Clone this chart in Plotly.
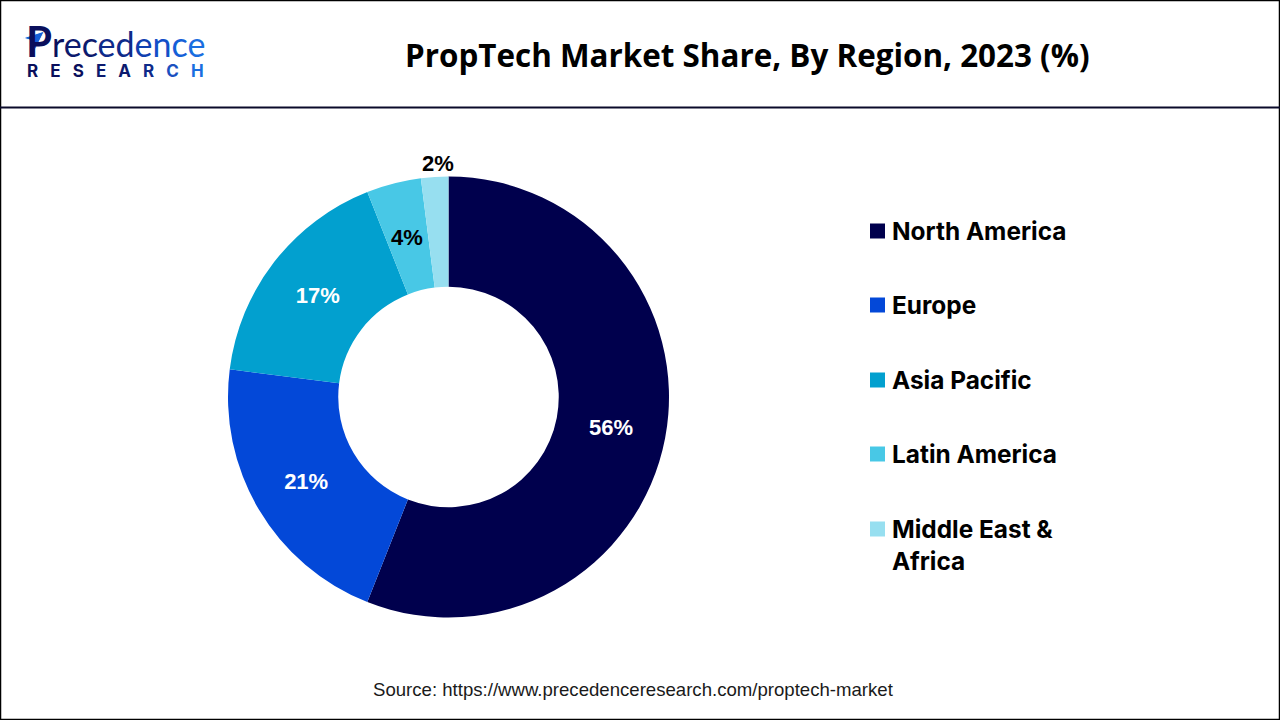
import math
import plotly.graph_objects as go

W, H = 1280, 720
regions = ["North America", "Europe", "Asia Pacific", "Latin America", "Middle East &<br>Africa"]
shares = [56, 21, 17, 4, 2]
share_labels = ["56%", "21%", "17%", "4%", "2%"]
colors = ["#00004d", "#0348d8", "#02a0cf", "#48c8e6", "#97dff0"]
label_colors = ["white", "white", "white", "black", "black"]
legend_y = [231, 305, 380, 454, 529]
logo_letters = list("recedence")
logo_colors = ["#0a0f5c", "#0c1a6e", "#0c1a6e", "#0e2a8a", "#0e2a8a", "#1040b0", "#1250c8", "#1560d8", "#1a6ee0"]
logo_sub = list("RESEARCH")
logo_sub_colors = ["#0a0f5c", "#0a0f5c", "#0a0f5c", "#0c1a6e", "#0c1a6e", "#0e2a8a", "#1a50c0", "#1a6ee0"]

CX, CY, R_OUT = 448.5, 397, 220.5
LABEL_SIZE = 22


def px(x):
    return x / W


def py(y):
    return 1 - y / H


# Small slices cannot hold a label through the trace's own placement, so those
# two are placed on their slice's mid-angle from the same share values.
native_text = [t if i < 3 else "" for i, t in enumerate(share_labels)]

fig = go.Figure(go.Pie(
    labels=[r.replace("<br>", " ") for r in regions],
    values=shares,
    text=native_text,
    textinfo="text",
    textposition="inside",
    insidetextorientation="horizontal",
    insidetextfont=dict(family="Liberation Sans", size=LABEL_SIZE, color=label_colors, weight="bold"),
    marker=dict(colors=colors, line=dict(width=0)),
    hole=0.5,
    sort=False,
    direction="clockwise",
    rotation=0,
    showlegend=False,
    domain=dict(x=[px(CX - R_OUT), px(CX + R_OUT)], y=[py(CY + R_OUT), py(CY - R_OUT)]),
    hoverinfo="label+percent",
))

shapes = [
    dict(type="rect", xref="paper", yref="paper", x0=px(0.5), x1=px(1279.5), y0=py(719.5), y1=py(0.5),
         line=dict(color="#000000", width=1.5), fillcolor="rgba(0,0,0,0)"),
    dict(type="line", xref="paper", yref="paper", x0=0, x1=1, y0=py(107.5), y1=py(107.5),
         line=dict(color="#0a0a2a", width=2)),
]
for y, c in zip(legend_y, colors):
    shapes.append(dict(type="rect", xref="paper", yref="paper", x0=px(870), x1=px(885),
                       y0=py(y + 7.5), y1=py(y - 7.5), fillcolor=c, line=dict(width=0)))

annotations = [
    dict(text="<b>PropTech Market Share, By Region, 2023 (%)</b>", x=px(747.5), y=py(55), xref="paper", yref="paper",
         showarrow=False, xanchor="center", yanchor="middle",
         font=dict(family="Open Sans", size=31.4, color="#000000")),
    dict(text="Source: https://www.precedenceresearch.com/proptech-market", x=px(633.5), y=py(689),
         xref="paper", yref="paper", showarrow=False, xanchor="center", yanchor="middle",
         font=dict(family="Liberation Sans", size=18.6, color="#1a1a1a")),
    dict(text='<b><span style="font-size:42px;color:#0a0f5c">P</span></b>'
              + "".join(f'<span style="color:{c}">{l}</span>' for l, c in zip(logo_letters, logo_colors)),
         x=px(24), y=py(41), xref="paper", yref="paper", showarrow=False, xanchor="left", yanchor="middle",
         font=dict(family="Lato", size=34, color="#0a0f5c")),
    dict(text="<b>" + "   ".join(f'<span style="color:{c}">{l}</span>' for l, c in zip(logo_sub, logo_sub_colors)) + "</b>",
         x=px(25), y=py(71.5), xref="paper", yref="paper", showarrow=False, xanchor="left", yanchor="middle",
         font=dict(family="Inter", size=17, color="#0a0f5c")),
]
for y, r in zip(legend_y, regions):
    annotations.append(dict(text=f"<b>{r}</b>", x=px(890), y=py(y - 17), xref="paper", yref="paper",
                            showarrow=False, xanchor="left", yanchor="top", align="left",
                            font=dict(family="Inter", size=24.4, color="#000000")))

# labels of the two small slices
total = sum(shares)
cum = 0
label_radius = {3: 165, 4: 234}
label_nudge = {3: 0, 4: 4}
for i, s in enumerate(shares):
    mid = (cum + s / 2) / total * 2 * math.pi
    cum += s
    if i in label_radius:
        r = label_radius[i]
        annotations.append(dict(text=f"<b>{share_labels[i]}</b>",
                                x=px(CX + r * math.sin(mid) + label_nudge[i]), y=py(CY - r * math.cos(mid)),
                                xref="paper", yref="paper", showarrow=False, xanchor="center", yanchor="middle",
                                font=dict(family="Liberation Sans", size=LABEL_SIZE, color=label_colors[i])))

# logo wing, drawn above the P
shapes.append(dict(type="path", xref="paper", yref="paper", layer="above",
                   path=f"M {px(23)} {py(38)} L {px(44.5)} {py(31)} L {px(35)} {py(50)} L {px(33)} {py(41)} Z",
                   fillcolor="#1560d8", line=dict(color="white", width=1)))

fig.update_layout(width=W, height=H, margin=dict(l=0, r=0, t=0, b=0), paper_bgcolor="white",
                  shapes=shapes, annotations=annotations, showlegend=False)
fig.write_html("out.html", config=dict(displayModeBar=False),
               post_script="document.body.style.margin='0';document.body.style.overflow='hidden';")
